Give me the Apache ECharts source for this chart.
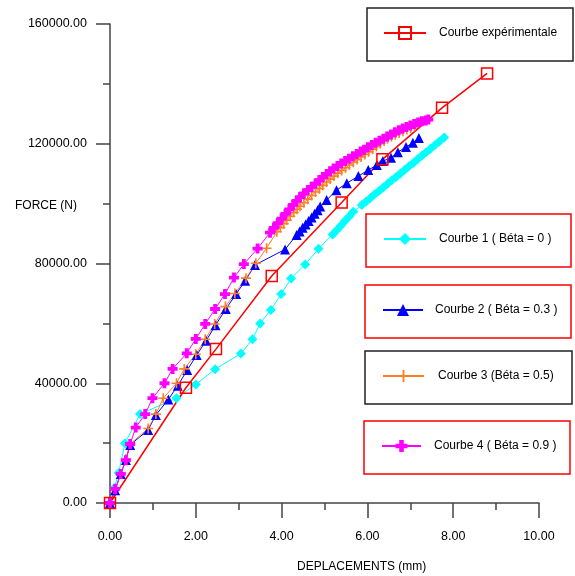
<!DOCTYPE html>
<html>
<head>
<meta charset="utf-8">
<title>Force - Deplacement</title>
<script src="https://cdn.jsdelivr.net/npm/echarts/dist/echarts.min.js"></script>
<style>
  html, body { margin: 0; padding: 0; background: #fff; }
  #chart { width: 575px; height: 576px; }
</style>
</head>
<body>
<div id="chart"></div>
<script>
// données : [deplacement (mm), force (N)]
var courbeExp = [
  [0, 0], [1.77, 38500], [2.47, 51400], [3.77, 75800], [5.40, 100400],
  [6.35, 114800], [7.74, 132000], [8.79, 143500]
];

var courbe1 = [
  [0, 0], [0.10, 5000], [0.20, 10000], [0.35, 20000], [0.70, 29700],
  [1.55, 35000], [2.00, 39600], [2.45, 44700], [3.05, 49900], [3.32, 54700],
  [3.50, 60000], [3.75, 64500], [3.99, 69800], [4.22, 75000], [4.55, 79700],
  [4.86, 84900], [5.19, 89700], [5.29, 91200], [5.39, 92800], [5.48, 94300],
  [5.58, 95800], [5.67, 97300], [5.87, 99500], [5.97, 100700], [6.07, 101900],
  [6.17, 103100], [6.27, 104200], [6.37, 105400], [6.47, 106600], [6.57, 107800],
  [6.67, 108900], [6.77, 110100], [6.87, 111300], [6.97, 112500], [7.07, 113600],
  [7.17, 114800], [7.27, 116000], [7.37, 117200], [7.47, 118300], [7.57, 119500],
  [7.67, 120700], [7.79, 122100]
];

var courbe2 = [
  [0, 0], [0.12, 4300], [0.25, 9700], [0.37, 14400], [0.47, 19400],
  [0.89, 24400], [1.07, 29400], [1.36, 34600], [1.58, 39200], [1.80, 44400],
  [2.02, 49400], [2.24, 54200], [2.46, 59400], [2.70, 64800], [2.94, 69800],
  [3.15, 74200], [3.38, 79500], [4.08, 84700], [4.35, 89500], [4.42, 90700],
  [4.49, 91900], [4.56, 93000], [4.63, 94200], [4.70, 95400], [4.77, 96600],
  [4.84, 97800], [4.90, 99000], [5.05, 101200], [5.28, 104500], [5.52, 106800],
  [5.79, 109200], [6.02, 111200], [6.22, 112900], [6.36, 114200], [6.55, 115300],
  [6.71, 117200], [6.90, 118900], [7.06, 120300], [7.20, 121900]
];

var courbe3 = [
  [0, 0], [0.12, 4600], [0.25, 9700], [0.37, 14600], [0.47, 19700],
  [0.89, 24900], [1.07, 29700], [1.24, 35000], [1.55, 40000], [1.73, 44800],
  [2.00, 49700], [2.22, 54700], [2.44, 59800], [2.69, 65600], [2.91, 70000],
  [3.17, 75100], [3.40, 80100], [3.65, 85100], [3.89, 90600], [3.97, 92000],
  [4.05, 93300], [4.12, 94500], [4.20, 95800], [4.28, 97000], [4.36, 98100],
  [4.43, 99100], [4.52, 100300], [4.61, 101500], [4.70, 102700], [4.79, 103900],
  [4.88, 105000], [4.96, 106100], [5.05, 107200], [5.13, 108200], [5.22, 109200],
  [5.31, 110200], [5.40, 111100], [5.49, 112000], [5.58, 112900], [5.67, 113800],
  [5.76, 114700], [5.85, 115600], [5.94, 116400], [6.03, 117300], [6.12, 118200],
  [6.21, 119100], [6.30, 120000], [6.39, 120900], [6.47, 121700], [6.56, 122400],
  [6.65, 123000], [6.74, 123600], [6.83, 124200], [6.92, 124800], [7.01, 125300],
  [7.10, 125800]
];

var courbe4 = [
  [0, 0], [0.12, 4700], [0.25, 9700], [0.37, 14300], [0.47, 19700],
  [0.60, 25200], [0.82, 29700], [0.99, 35000], [1.27, 40000], [1.46, 44800],
  [1.79, 50000], [2.00, 54800], [2.22, 59800], [2.45, 64800], [2.68, 69800],
  [2.89, 75300], [3.12, 79800], [3.44, 85000], [3.73, 90300], [3.82, 91900],
  [3.91, 93500], [4.00, 95000], [4.09, 96600], [4.18, 98100], [4.27, 99600],
  [4.35, 100900], [4.43, 102200], [4.52, 103400], [4.61, 104500], [4.70, 105600],
  [4.79, 106700], [4.88, 107800], [4.96, 108900], [5.05, 109900], [5.13, 110800],
  [5.21, 111700], [5.30, 112600], [5.39, 113400], [5.48, 114200], [5.57, 115000],
  [5.66, 115800], [5.75, 116600], [5.84, 117400], [5.92, 118000], [6.01, 118800],
  [6.10, 119600], [6.19, 120300], [6.28, 121000], [6.37, 121700], [6.46, 122400],
  [6.55, 123100], [6.64, 123800], [6.73, 124500], [6.82, 125100], [6.91, 125600],
  [7.00, 126100], [7.09, 126600], [7.18, 127100], [7.27, 127500], [7.36, 127800],
  [7.42, 128100]
];

var nomsSeries = [
  'Courbe expérimentale',
  'Courbe 1 ( Béta = 0 )',
  'Courbe 2 ( Béta = 0.3 )',
  'Courbe 3 (Béta = 0.5)',
  'Courbe 4 ( Béta = 0.9 )'
];

// symboles "+" (fin et épais)
var plusFin = 'path://M4.2,0H5.8V4.2H10V5.8H5.8V10H4.2V5.8H0V4.2H4.2Z';
var plusEpais = 'path://M3.1,0H6.9V3.1H10V6.9H6.9V10H3.1V6.9H0V3.1H3.1Z';

var police = 'Liberation Sans, Arial, sans-serif';

// une légende par cadre
function legende(nom, left, top, largeur, decal) {
  return {
    data: [nom],
    left: left,
    top: top,
    orient: 'horizontal',
    padding: 0,
    itemWidth: largeur,
    itemHeight: 15,
    selectedMode: false,
    textStyle: {
      fontFamily: police,
      fontSize: 12,
      color: '#000',
      padding: [0, 0, 0, decal]
    }
  };
}

function cadre(x, y, w, h, couleur) {
  return {
    type: 'rect',
    shape: { x: x, y: y, width: w, height: h },
    style: { fill: 'none', stroke: couleur, lineWidth: 1.5 },
    silent: true
  };
}

var axeCouleur = '#444';

var myChart = echarts.init(document.getElementById('chart'));

myChart.setOption({
  animation: false,
  backgroundColor: '#fff',
  grid: { left: 110, right: 36, top: 24, bottom: 73 },
  legend: [
    legende(nomsSeries[0], 383, 26, 42, 8),
    legende(nomsSeries[1], 383, 233, 42, 8),
    legende(nomsSeries[2], 382, 304, 40, 7),
    legende(nomsSeries[3], 382, 370, 41, 9),
    legende(nomsSeries[4], 381, 440, 39, 8)
  ],
  graphic: [
    cadre(367, 8, 206, 53, '#222'),
    cadre(366, 214, 205, 53, '#ff0000'),
    cadre(365, 285, 206, 53, '#ff0000'),
    cadre(365, 351, 207, 53, '#222'),
    cadre(364, 421, 206, 53, '#ff0000'),
    {
      type: 'text',
      left: 15,
      top: 200,
      style: { text: 'FORCE (N)', fontFamily: police, fontSize: 12, fill: '#000' }
    },
    {
      type: 'text',
      left: 297,
      top: 561,
      style: { text: 'DEPLACEMENTS (mm)', fontFamily: police, fontSize: 12, fill: '#000' }
    }
  ],
  xAxis: {
    type: 'value',
    min: 0,
    max: 10,
    interval: 2,
    splitLine: { show: false },
    axisLine: { lineStyle: { color: axeCouleur, width: 1.5 } },
    axisTick: { length: 15, lineStyle: { color: axeCouleur, width: 1.5 } },
    minorTick: { show: true, splitNumber: 2, length: 7, lineStyle: { color: axeCouleur, width: 1.5 } },
    axisLabel: {
      margin: 27,
      fontFamily: police,
      fontSize: 12.5,
      color: '#000',
      formatter: function (v) { return v.toFixed(2); }
    }
  },
  yAxis: {
    type: 'value',
    min: 0,
    max: 160000,
    interval: 40000,
    splitLine: { show: false },
    axisLine: { lineStyle: { color: axeCouleur, width: 1.5 } },
    axisTick: { length: 14, lineStyle: { color: axeCouleur, width: 1.5 } },
    minorTick: { show: true, splitNumber: 2, length: 7, lineStyle: { color: axeCouleur, width: 1.5 } },
    axisLabel: {
      margin: 23,
      fontFamily: police,
      fontSize: 12.5,
      color: '#000',
      formatter: function (v) { return v.toFixed(2); }
    }
  },
  series: [
    {
      name: nomsSeries[1],
      type: 'line',
      data: courbe1,
      symbol: 'diamond',
      symbolSize: 10,
      itemStyle: { color: '#00ffff' },
      lineStyle: { color: '#00ffff', width: 1 }
    },
    {
      name: nomsSeries[2],
      type: 'line',
      data: courbe2,
      symbol: 'triangle',
      symbolSize: 10,
      itemStyle: { color: '#0000ff' },
      lineStyle: { color: '#0000ff', width: 1 }
    },
    {
      name: nomsSeries[3],
      type: 'line',
      data: courbe3,
      symbol: plusFin,
      symbolSize: 10,
      itemStyle: { color: '#ff7f27' },
      lineStyle: { color: '#ff7f27', width: 1 }
    },
    {
      name: nomsSeries[4],
      type: 'line',
      data: courbe4,
      symbol: plusEpais,
      symbolSize: 10,
      itemStyle: { color: '#ff00ff' },
      lineStyle: { color: '#ff00ff', width: 1 }
    },
    {
      name: nomsSeries[0],
      type: 'line',
      z: 3,
      data: courbeExp,
      symbol: 'rect',
      symbolSize: 11,
      itemStyle: { color: 'rgba(255,255,255,0)', borderColor: '#ff0000', borderWidth: 1.5 },
      lineStyle: { color: '#ff0000', width: 1.5 }
    }
  ]
});

window.onresize = function () {
  myChart.resize();
};
</script>
</body>
</html>
